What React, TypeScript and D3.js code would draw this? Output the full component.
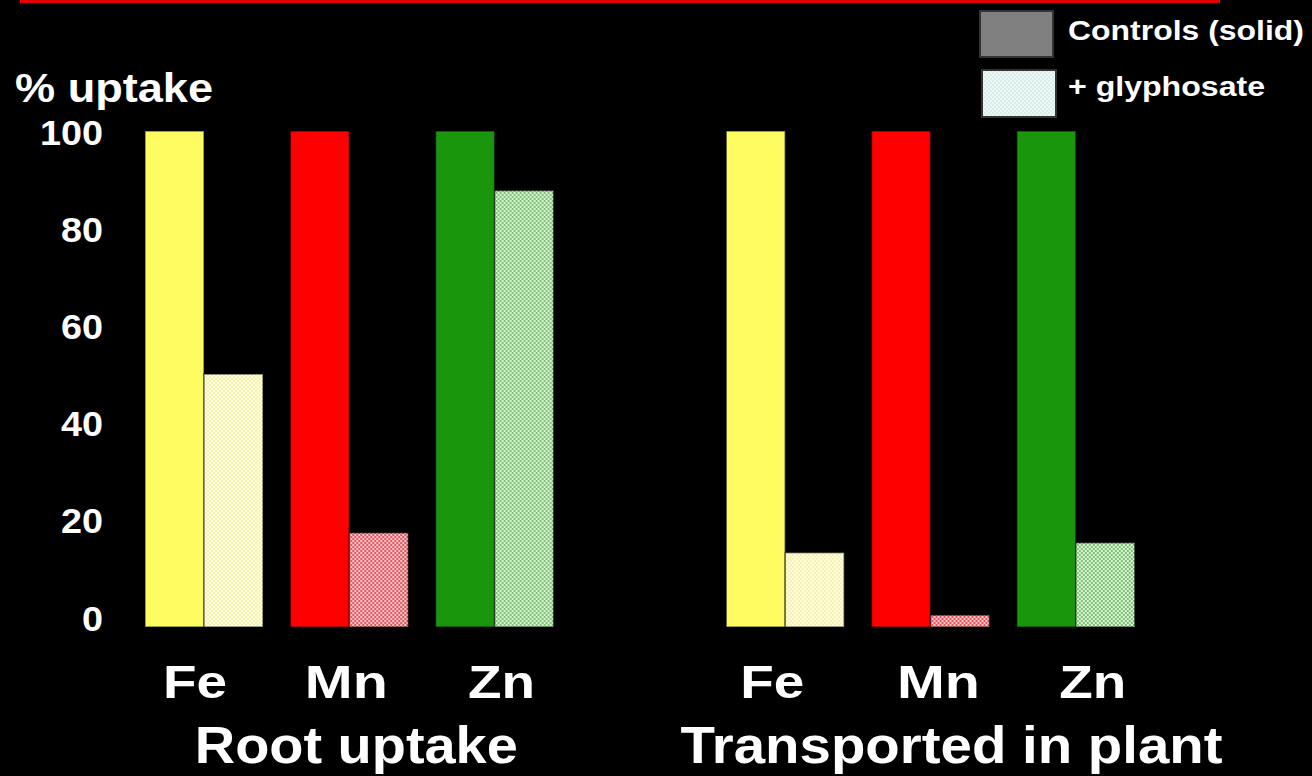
import * as d3 from "d3";

// chart data
const groups = ["Root uptake", "Transported in plant"];
const elements = ["Fe", "Mn", "Zn"];
const controls = [
  [100, 100, 100],
  [100, 100, 100],
];
const glyphosate = [
  [51, 19, 88],
  [15, 2.4, 17],
];
const yTicks = [0, 20, 40, 60, 80, 100];
const elementColors = ["#fdfd62", "#ff0000", "#1a960d"];
// checker pattern colours for the glyphosate bars [dark, light]
const checkerColors = [
  ["#f6f2a8", "#fffde6"],
  ["#e6505a", "#f8cccc"],
  ["#7cc474", "#dcf2d6"],
];

const W = 1312;
const H = 776;

export default function App() {
  // one slot per element, with an empty slot between the two groups
  const slots = ["0-Fe", "0-Mn", "0-Zn", "gap", "1-Fe", "1-Mn", "1-Zn"];
  const x = d3.scaleBand<string>().domain(slots).range([117.7, 1162.1]).padding(0.188);
  const xs = d3.scaleBand<string>().domain(["ctrl", "gly"]).range([0, x.bandwidth()]);
  const y = d3.scaleLinear().domain([0, 100]).range([627, 131]);
  // tick labels sit a little off the bar scale in the original slide
  const yLab = d3.scaleLinear().domain([0, 100]).range([618, 132]);

  const font = "'Liberation Sans', Arial, sans-serif";
  // the slide's lettering is stretched wider than plain Arial
  const elWidth: Record<string, number> = { Fe: 64, Mn: 83, Zn: 67 };
  const elShift = [
    [-9, -3, 7],
    [-13, 8, 17],
  ];
  const groupWidth = [323, 542];
  const groupShift = [7, 21];

  return (
    <svg
      width={W}
      height={H}
      style={{ position: "absolute", left: 0, top: 0, display: "block", background: "#000" }}
    >
      <defs>
        {checkerColors.map((c, i) => (
          <pattern key={i} id={`chk${i}`} width={4} height={4} patternUnits="userSpaceOnUse">
            <rect width={4} height={4} fill={c[1]} />
            <rect width={2} height={2} fill={c[0]} />
            <rect x={2} y={2} width={2} height={2} fill={c[0]} />
          </pattern>
        ))}
        <pattern id="chkLegend" width={4} height={4} patternUnits="userSpaceOnUse">
          <rect width={4} height={4} fill="#eef8f6" />
          <rect width={2} height={2} fill="#d8ecea" />
          <rect x={2} y={2} width={2} height={2} fill="#d8ecea" />
        </pattern>
      </defs>
      <rect width={W} height={H} fill="#000" />

      {/* red rule at the top */}
      <rect x={20} y={0} width={1200} height={3} fill="#e00000" />

      {/* y axis title and tick labels */}
      <text
        x={15}
        y={102}
        fill="#fff"
        fontFamily={font}
        fontWeight="bold"
        fontSize={40}
        textLength={198}
        lengthAdjust="spacingAndGlyphs"
      >
        % uptake
      </text>
      {yTicks.map((t) => (
        <text
          key={t}
          x={103}
          y={yLab(t)}
          dy="0.36em"
          textAnchor="end"
          fill="#fff"
          fontFamily={font}
          fontWeight="bold"
          fontSize={35}
          textLength={21 * String(t).length}
          lengthAdjust="spacingAndGlyphs"
        >
          {t}
        </text>
      ))}

      {/* bars */}
      {groups.map((g, gi) =>
        elements.map((el, ei) => {
          const x0 = x(`${gi}-${el}`)!;
          return (
            <g key={`${gi}-${el}`} transform={`translate(${x0},0)`}>
              <rect
                x={xs("ctrl")}
                y={y(controls[gi][ei])}
                width={xs.bandwidth()}
                height={y(0) - y(controls[gi][ei])}
                fill={elementColors[ei]}
                stroke="#000"
                strokeOpacity={0.5}
                strokeWidth={1.5}
              />
              <rect
                x={xs("gly")}
                y={y(glyphosate[gi][ei])}
                width={xs.bandwidth()}
                height={y(0) - y(glyphosate[gi][ei])}
                fill={`url(#chk${ei})`}
                stroke="#000"
                strokeOpacity={0.5}
                strokeWidth={1.5}
              />
              <text
                x={x.bandwidth() / 2 + elShift[gi][ei]}
                y={698}
                textAnchor="middle"
                fill="#fff"
                fontFamily={font}
                fontWeight="bold"
                fontSize={47}
                textLength={elWidth[el]}
                lengthAdjust="spacingAndGlyphs"
              >
                {el}
              </text>
            </g>
          );
        })
      )}

      {/* group labels */}
      {groups.map((g, gi) => {
        const left = x(`${gi}-Fe`)!;
        const right = x(`${gi}-Zn`)! + x.bandwidth();
        return (
          <text
            key={g}
            x={(left + right) / 2 + groupShift[gi]}
            y={763}
            textAnchor="middle"
            fill="#fff"
            fontFamily={font}
            fontWeight="bold"
            fontSize={52}
            textLength={groupWidth[gi]}
            lengthAdjust="spacingAndGlyphs"
          >
            {g}
          </text>
        );
      })}

      {/* legend */}
      <rect x={980} y={11} width={73} height={46} fill="#808080" stroke="#333" strokeWidth={2} />
      <text
        x={1068}
        y={40}
        fill="#fff"
        fontFamily={font}
        fontWeight="bold"
        fontSize={28}
        textLength={236}
        lengthAdjust="spacingAndGlyphs"
      >
        Controls (solid)
      </text>
      <rect x={982} y={70} width={74} height={47} fill="url(#chkLegend)" stroke="#333" strokeWidth={2} />
      <text
        x={1068}
        y={96}
        fill="#fff"
        fontFamily={font}
        fontWeight="bold"
        fontSize={28}
        textLength={197}
        lengthAdjust="spacingAndGlyphs"
      >
        + glyphosate
      </text>
    </svg>
  );
}
